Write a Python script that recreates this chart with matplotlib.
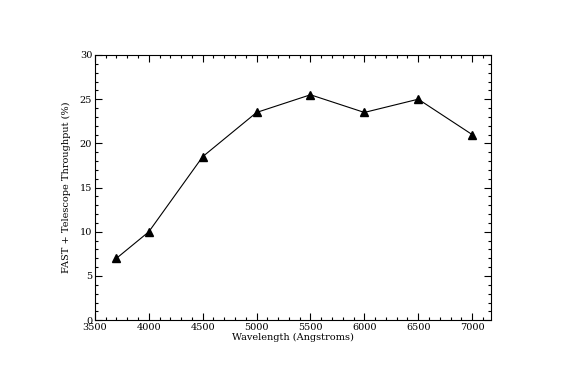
import matplotlib
matplotlib.use("Agg")
import matplotlib.pyplot as plt
from matplotlib.ticker import MultipleLocator

wavelength = [3700, 4000, 4500, 5000, 5500, 6000, 6500, 7000]
throughput = [7.0, 10.0, 18.5, 23.5, 25.5, 23.5, 25.0, 21.0]

plt.rcParams['font.family'] = 'DejaVu Serif'

fig = plt.figure(figsize=(5.65, 3.9), dpi=100)
ax = fig.add_axes([0.168, 0.179, 0.701, 0.680])

ax.plot(wavelength, throughput, color='black', linewidth=0.8,
        marker='^', markersize=5.5, markerfacecolor='black')

ax.set_xlim(3500, 7175)
ax.set_ylim(0, 30)
ax.xaxis.set_major_locator(MultipleLocator(500))
ax.xaxis.set_minor_locator(MultipleLocator(100))
ax.yaxis.set_major_locator(MultipleLocator(5))
ax.yaxis.set_minor_locator(MultipleLocator(1))
ax.tick_params(which='both', direction='in', top=True, right=True,
               labelsize=7, width=0.8, pad=2)
ax.tick_params(which='major', length=5)
ax.tick_params(which='minor', length=2.5)
for s in ax.spines.values():
    s.set_linewidth(0.8)

ax.set_xlabel('Wavelength (Angstroms)', fontsize=7, labelpad=1)
ax.set_ylabel('FAST + Telescope Throughput (%)', fontsize=7, labelpad=6)

fig.savefig('out.png', dpi=100)
